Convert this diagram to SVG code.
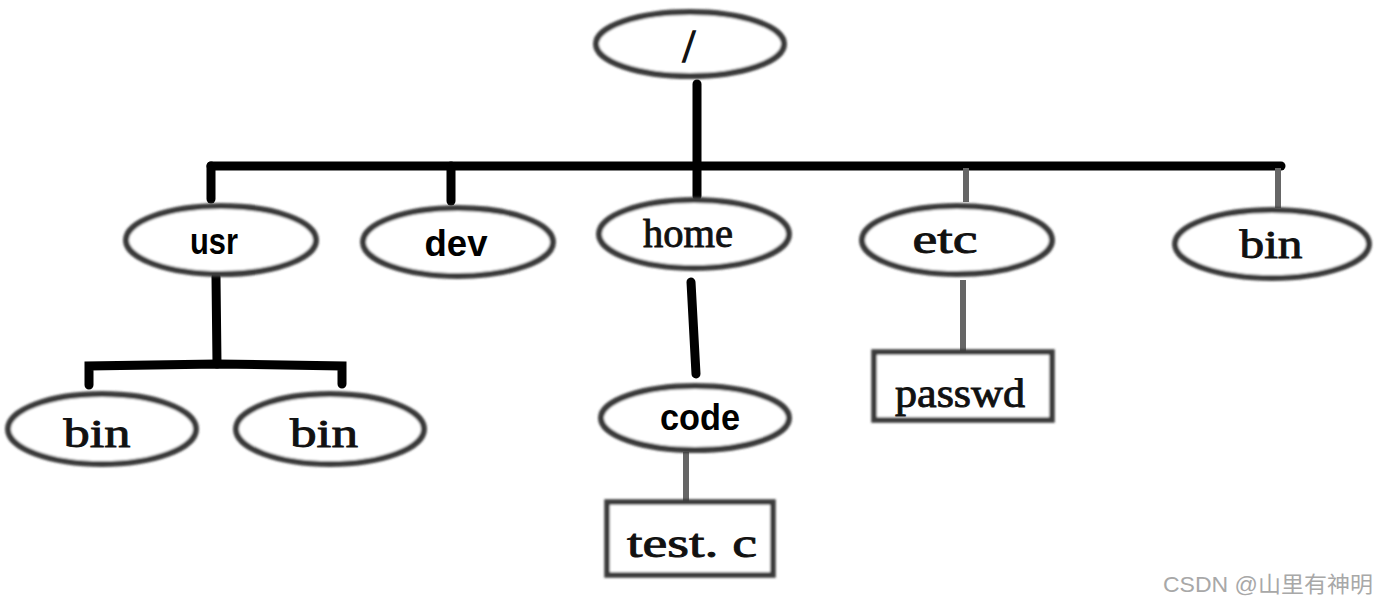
<svg xmlns="http://www.w3.org/2000/svg" width="1394" height="613" viewBox="0 0 1394 613">
<defs>
<filter id="soft" x="-10%" y="-20%" width="120%" height="140%"><feGaussianBlur stdDeviation="1.2"/></filter>
</defs>
<style>
.node ellipse{fill:#fff;stroke:#3a3a3a;stroke-width:6;filter:url(#soft)}
.node rect{fill:#fff;stroke:#3a3a3a;stroke-width:5.5;filter:url(#soft)}
.serif{font-family:"Liberation Serif","DejaVu Serif",serif;font-size:40px;fill:#111;stroke:#111;stroke-width:0.9;text-anchor:middle}
.sans{font-family:"Liberation Sans",Arial,sans-serif;font-weight:bold;font-size:37px;fill:#000;text-anchor:middle}
.thick{stroke:#000;stroke-width:9;stroke-linecap:round;fill:none}
.thin{stroke:#666;stroke-width:6;fill:none}
.wm{font-family:"Liberation Sans","Noto Sans CJK SC",sans-serif;font-size:22px;fill:#a8a8a8}
</style>
<rect width="1394" height="613" fill="#fff"/>
<g id="connectors">
<path class="thick" d="M697 84 L697 166"/>
<path class="thick" d="M211 166 L1281 166"/>
<path class="thick" d="M211 166 L211 199"/>
<path class="thick" d="M451 166 L451 201"/>
<path class="thick" d="M697 166 L697 196"/>
<path class="thin" d="M966 168 L966 202"/>
<path class="thin" d="M1278 168 L1278 208"/>
<path class="thick" d="M216 277 L217 364"/>
<path class="thick" d="M89 385 L89 366 L217 364 L342 366 L342 384"/>
<path class="thick" d="M691 282 L696 374"/>
<path class="thin" d="M686 452 L686 503"/>
<path class="thin" d="M963 280 L963 352"/>
</g>
<g id="node-root" class="node"><ellipse cx="690" cy="44" rx="94" ry="32"/><text class="serif" x="689" y="62" style="font-size:46px;stroke-width:1.4">/</text></g>
<g id="node-usr" class="node"><ellipse cx="221" cy="240" rx="95" ry="34"/><text class="sans" x="214" y="254" textLength="48" lengthAdjust="spacingAndGlyphs">usr</text></g>
<g id="node-dev" class="node"><ellipse cx="458" cy="242" rx="95" ry="34"/><text class="sans" x="456" y="256" textLength="63" lengthAdjust="spacingAndGlyphs">dev</text></g>
<g id="node-home" class="node"><ellipse cx="694" cy="234" rx="95" ry="34"/><text class="serif" x="688" y="247" textLength="90" lengthAdjust="spacingAndGlyphs">home</text></g>
<g id="node-etc" class="node"><ellipse cx="957" cy="240" rx="95" ry="34"/><text class="serif" x="945" y="253" textLength="65" lengthAdjust="spacingAndGlyphs">etc</text></g>
<g id="node-bin" class="node"><ellipse cx="1272" cy="244" rx="97" ry="34"/><text class="serif" x="1271" y="258" textLength="63" lengthAdjust="spacingAndGlyphs">bin</text></g>
<g id="node-bin-left" class="node"><ellipse cx="102" cy="429" rx="94" ry="35"/><text class="serif" x="97" y="447" textLength="67" lengthAdjust="spacingAndGlyphs">bin</text></g>
<g id="node-bin-right" class="node"><ellipse cx="330" cy="429" rx="94" ry="35"/><text class="serif" x="324" y="447" textLength="68" lengthAdjust="spacingAndGlyphs">bin</text></g>
<g id="node-code" class="node"><ellipse cx="695" cy="418" rx="94" ry="32"/><text class="sans" x="700" y="430" textLength="80" lengthAdjust="spacingAndGlyphs">code</text></g>
<g id="node-testc" class="node"><rect x="607" y="502" width="166" height="73"/><text class="serif" x="692" y="557" textLength="130" lengthAdjust="spacingAndGlyphs">test. c</text></g>
<g id="node-passwd" class="node"><rect x="874" y="352" width="178" height="68"/><text class="serif" x="960" y="407" textLength="130" lengthAdjust="spacingAndGlyphs">passwd</text></g>
<text class="wm" x="1163" y="592" textLength="210" lengthAdjust="spacingAndGlyphs">CSDN @山里有神明</text>
</svg>
